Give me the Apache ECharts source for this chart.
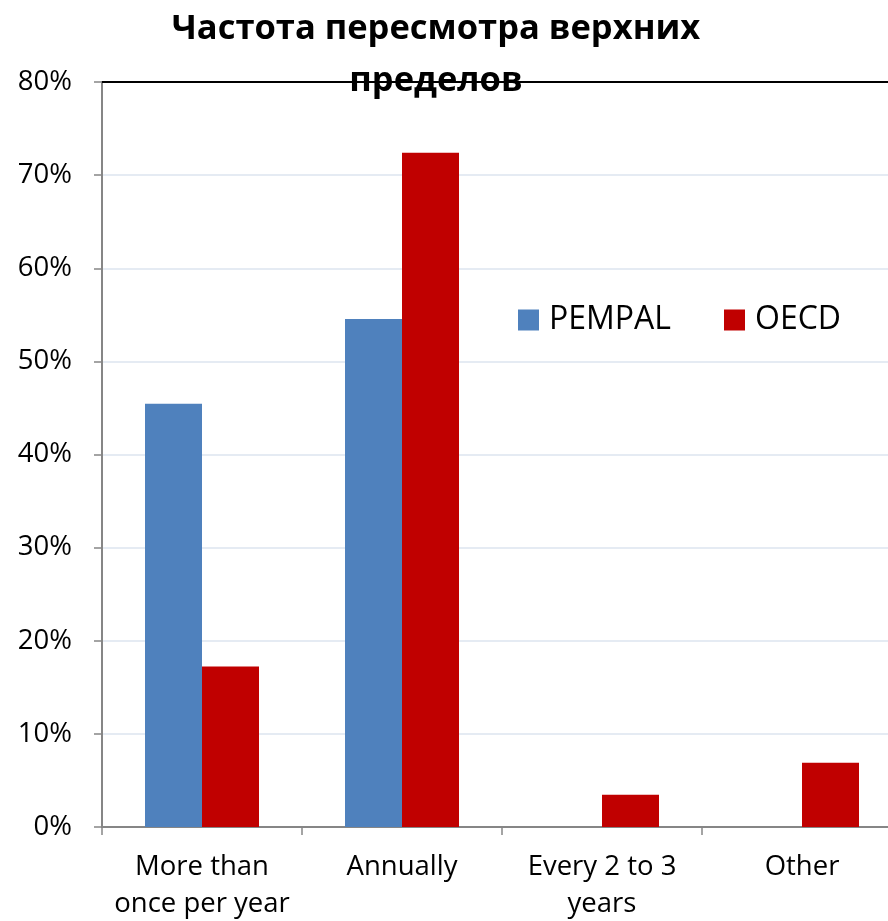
<!DOCTYPE html>
<html>
<head>
<meta charset="utf-8">
<script src="https://cdn.jsdelivr.net/npm/echarts@6/dist/echarts.min.js"></script>
<style>html,body{margin:0;padding:0;background:#fff}#c{width:888px;height:921px}</style>
</head>
<body>
<div id="c"></div>
<script>
var categories = ['More than\nonce per year', 'Annually', 'Every 2 to 3\nyears', 'Other'];
var pempal = [45.45, 54.55, 0, 0];
var oecd = [17.24, 72.41, 3.45, 6.9];
var seriesNames = ['PEMPAL', 'OECD'];
var yTicks = [0, 10, 20, 30, 40, 50, 60, 70, 80];
var titleText = 'Частота пересмотра верхних\nпределов';

var FONT = 'Open Sans';
var chart = echarts.init(document.getElementById('c'), null, {renderer: 'canvas'});
chart.setOption({
  animation: false,
  backgroundColor: '#fff',
  title: {
    text: titleText,
    left: 431,
    textAlign: 'center',
    top: -2,
    textStyle: {fontFamily: FONT, fontWeight: 'bold', fontSize: 34.5, lineHeight: 52, color: '#000'}
  },
  legend: {
    data: seriesNames,
    left: 513,
    top: 299,
    itemWidth: 21,
    itemHeight: 21,
    itemGap: 53,
    icon: 'rect',
    textStyle: {fontFamily: FONT, fontSize: 32, color: '#000', padding: [0, 0, 0, 5]}
  },
  grid: {left: 102, width: 800, top: 82, height: 745, containLabel: false, outerBoundsMode: 'none'},
  xAxis: {
    type: 'category',
    data: categories,
    axisLine: {lineStyle: {color: '#868686', width: 2}},
    axisTick: {show: true, length: 8, lineStyle: {color: '#868686', width: 1.5}},
    axisLabel: {fontFamily: FONT, fontSize: 27.5, color: '#000', lineHeight: 37, margin: 22, interval: 0}
  },
  yAxis: {
    type: 'value',
    min: yTicks[0],
    max: yTicks[yTicks.length - 1],
    interval: 10,
    axisLine: {show: true, lineStyle: {color: '#868686', width: 2}},
    axisTick: {show: true, length: 8, lineStyle: {color: '#868686', width: 1.5}},
    axisLabel: {fontFamily: FONT, fontSize: 27.5, color: '#000', margin: 30, formatter: '{value}%'},
    splitLine: {show: true, lineStyle: {color: '#dce4ef', width: 1.5}}
  },
  series: [
    {
      name: seriesNames[0],
      type: 'bar',
      data: pempal,
      barGap: '0%',
      barCategoryGap: '43%',
      itemStyle: {color: '#4f81bd'}
    },
    {
      name: seriesNames[1],
      type: 'bar',
      data: oecd,
      barGap: '0%',
      barCategoryGap: '43%',
      itemStyle: {color: '#c00000'},
      markLine: {
        silent: true,
        symbol: 'none',
        label: {show: false},
        lineStyle: {color: '#000', width: 2, type: 'solid'},
        data: [{yAxis: yTicks[yTicks.length - 1]}]
      }
    }
  ]
});
</script>
</body>
</html>
